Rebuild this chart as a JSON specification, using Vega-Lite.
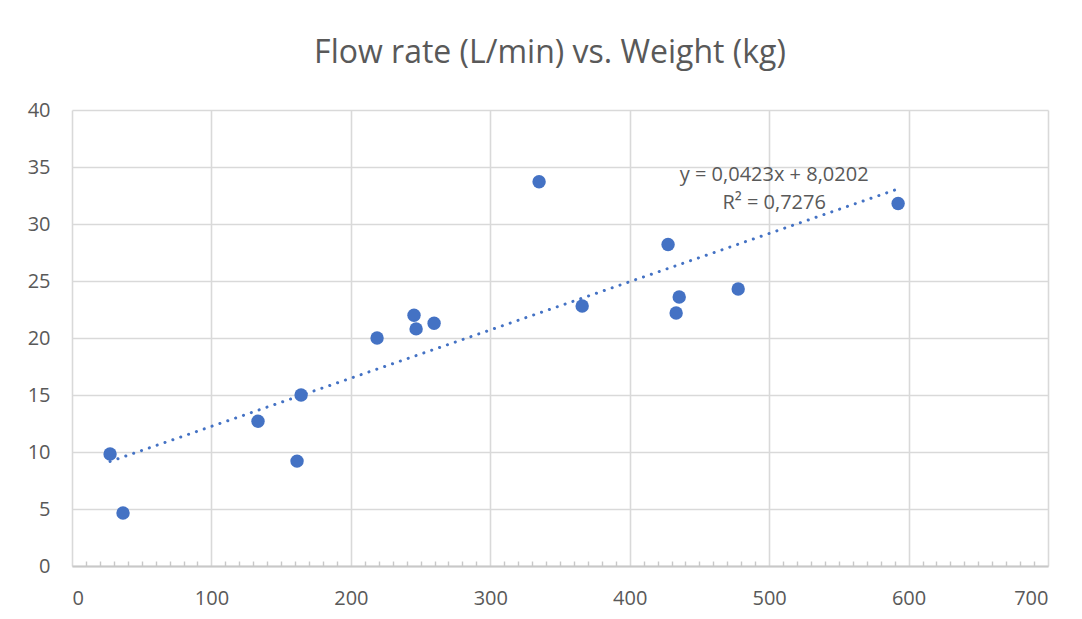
{
  "$schema": "https://vega.github.io/schema/vega-lite/v6.json",
  "width": 976,
  "height": 456,
  "autosize": {"type": "none"},
  "padding": {"left": 72, "top": 110, "right": 34, "bottom": 53},
  "background": "white",
  "config": {"view": {"stroke": null}, "font": "Open Sans"},
  "title": {"text": "Flow rate (L/min) vs. Weight (kg)", "fontSize": 32, "fontWeight": "normal", "color": "#595959", "font": "Open Sans", "offset": 30, "dx": -10, "anchor": "middle"},
  "datasets": {
    "points": [
      {"weight": 27.3, "flow": 9.82},
      {"weight": 36.6, "flow": 4.65},
      {"weight": 133.4, "flow": 12.7},
      {"weight": 161.4, "flow": 9.2},
      {"weight": 164.3, "flow": 15.0},
      {"weight": 218.8, "flow": 20.0},
      {"weight": 245.3, "flow": 22.0},
      {"weight": 246.8, "flow": 20.8},
      {"weight": 259.7, "flow": 21.3},
      {"weight": 335.0, "flow": 33.7},
      {"weight": 365.9, "flow": 22.8},
      {"weight": 427.5, "flow": 28.2},
      {"weight": 433.3, "flow": 22.2},
      {"weight": 435.5, "flow": 23.6},
      {"weight": 477.8, "flow": 24.3},
      {"weight": 592.5, "flow": 31.8}
    ],
    "trend": [
      {"weight": 27.3, "flow": 9.17},
      {"weight": 592.5, "flow": 33.08}
    ],
    "labels": [
      {"weight": 503.6, "flow": 34.3, "text": "y = 0,0423x + 8,0202"},
      {"weight": 503.6, "flow": 31.8, "text": "R² = 0,7276"}
    ]
  },
  "resolve": {"axis": {"x": "independent"}},
  "layer": [
    {
      "data": {"name": "points"},
      "mark": {"type": "point", "filled": true, "shape": "circle", "size": 180, "color": "#4472C4", "opacity": 1},
      "encoding": {
        "x": {"field": "weight", "type": "quantitative", "scale": {"domain": [0, 700], "nice": false},
          "axis": {"title": null, "values": [0, 100, 200, 300, 400, 500, 600, 700], "grid": true, "gridColor": "#d9d9d9", "gridWidth": 1.6, "domain": true, "domainColor": "#c8c8c8", "domainWidth": 1.8, "ticks": false, "labelFontSize": 20, "labelColor": "#595959", "labelPadding": 22, "labelFont": "Open Sans"}},
        "y": {"field": "flow", "type": "quantitative", "scale": {"domain": [0, 40], "nice": false},
          "axis": {"title": null, "values": [0, 5, 10, 15, 20, 25, 30, 35, 40], "grid": true, "gridColor": "#d9d9d9", "gridWidth": 1.6, "domain": false, "ticks": false, "labelFontSize": 20, "labelColor": "#595959", "labelPadding": 22, "labelFont": "Open Sans"}}
      }
    },
    {
      "data": {"name": "trend"},
      "mark": {"type": "line", "color": "#4472C4", "strokeWidth": 3, "strokeDash": [0.1, 8.2], "strokeCap": "round"},
      "encoding": {
        "x": {"field": "weight", "type": "quantitative",
          "axis": {"orient": "bottom", "title": null, "labels": false, "grid": false, "domain": false, "ticks": true, "tickSize": -5, "tickColor": "#c8c8c8", "tickWidth": 1.4,
            "values": [10,20,30,40,50,60,70,80,90,110,120,130,140,150,160,170,180,190,210,220,230,240,250,260,270,280,290,310,320,330,340,350,360,370,380,390,410,420,430,440,450,460,470,480,490,510,520,530,540,550,560,570,580,590,610,620,630,640,650,660,670,680,690]}},
        "y": {"field": "flow", "type": "quantitative"}
      }
    },
    {
      "data": {"name": "labels"},
      "mark": {"type": "text", "fontSize": 20, "color": "#595959", "font": "Open Sans", "align": "center", "baseline": "middle"},
      "encoding": {
        "x": {"field": "weight", "type": "quantitative", "axis": null},
        "y": {"field": "flow", "type": "quantitative"},
        "text": {"field": "text"}
      }
    }
  ]
}
